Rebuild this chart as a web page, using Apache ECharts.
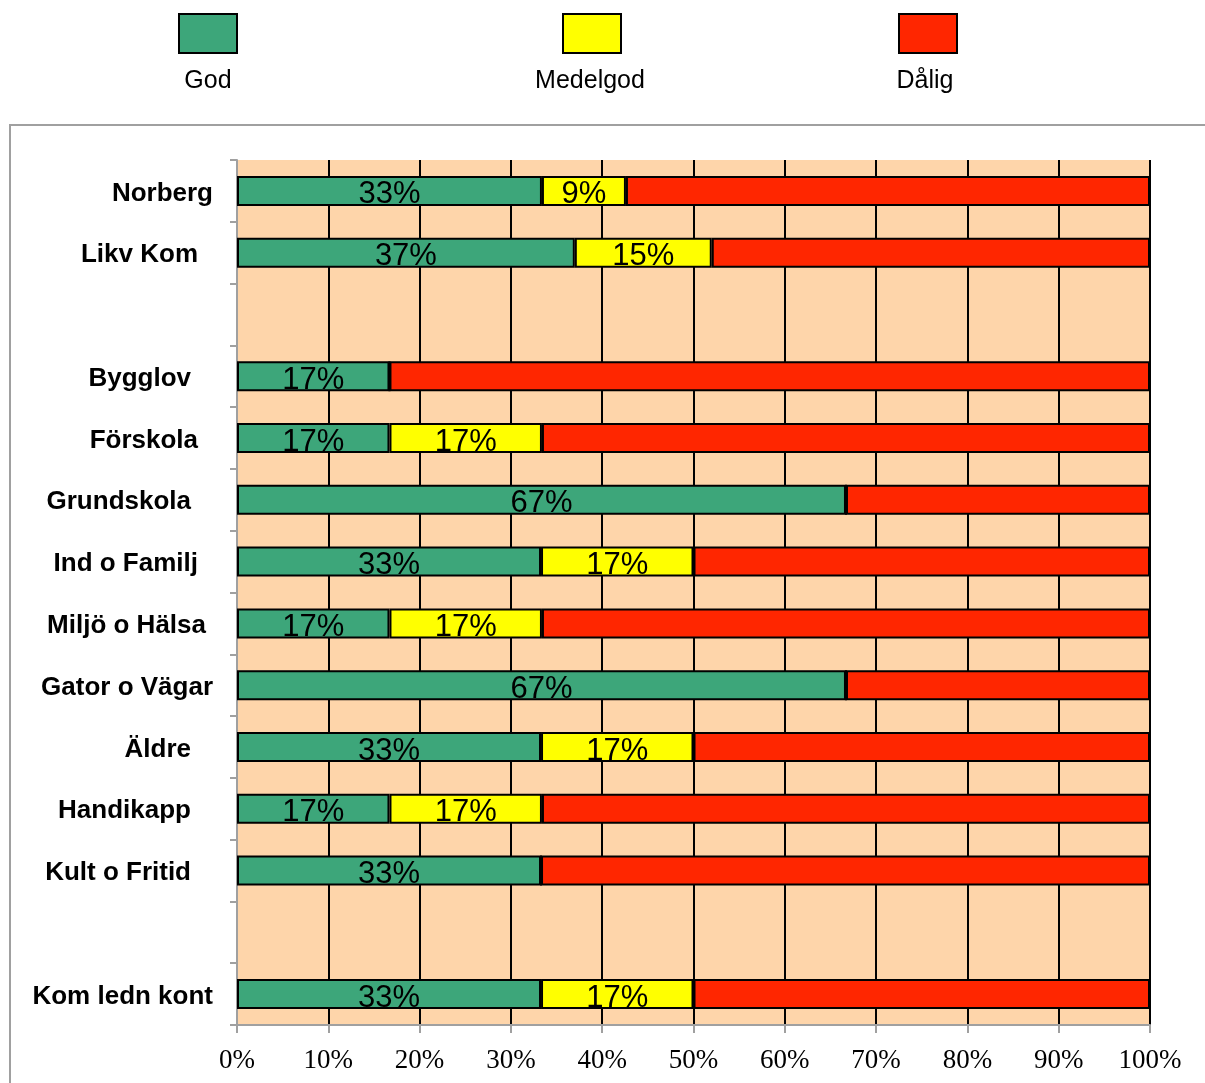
<!DOCTYPE html>
<html>
<head>
<meta charset="utf-8">
<script src="https://cdn.jsdelivr.net/npm/echarts@6/dist/echarts.min.js"></script>
<style>
  html, body { margin: 0; padding: 0; background: #fff; }
  #chart { width: 1205px; height: 1083px; }
</style>
</head>
<body>
<div id="chart"></div>
<script>
// data (percent of each row)
const categories = ['Norberg', 'Likv Kom', '', 'Bygglov', 'Förskola', 'Grundskola', 'Ind o Familj',
  'Miljö o Hälsa', 'Gator o Vägar', 'Äldre', 'Handikapp', 'Kult o Fritid', '', 'Kom ledn kont'];
const seriesNames = ['God', 'Medelgod', 'Dålig'];
const god      = [33.4, 37.0, null, 16.7, 16.7, 66.7, 33.3, 16.7, 66.7, 33.3, 16.7, 33.3, null, 33.3];
const medelgod = [9.2, 15.0, null, 0, 16.7, 0, 16.7, 16.7, 0, 16.7, 16.7, 0, null, 16.7];
const dalig    = [57.4, 48.0, null, 83.3, 66.6, 33.3, 50.0, 66.6, 33.3, 50.0, 66.6, 66.7, null, 50.0];
const xTicks = [0, 10, 20, 30, 40, 50, 60, 70, 80, 90, 100];

// label indents used by the original (right padding per row label)
const labelPad = [0, 15, 0, 22, 15, 22, 15, 7, 0, 22, 22, 22, 0, 0];

const colors = ['#3DA67A', '#FFFF00', '#FF2600'];

const chart = echarts.init(document.getElementById('chart'));

const rich = {};
labelPad.forEach(p => {
  rich['p' + p] = { padding: [5, p, 0, 0], fontFamily: 'Liberation Sans', fontWeight: 'bold', fontSize: 26, color: '#000' };
});

function barSeries(name, data, i, withLabel) {
  return {
    name: name,
    type: 'bar',
    stack: 'total',
    barWidth: 30,
    data: data,
    itemStyle: { color: colors[i], borderColor: '#000', borderWidth: 2 },
    label: {
      show: withLabel,
      position: 'inside',
      offset: [0, 4],
      color: '#000',
      fontFamily: 'Liberation Sans',
      fontSize: 31,
      formatter: p => (p.value ? Math.round(p.value) + '%' : ''),
    },
  };
}

const legendLeft = [178, 562, 898];
const legendText = [208, 590, 925];

chart.setOption({
  animation: false,
  backgroundColor: '#fff',
  legend: seriesNames.map((n, i) => ({
    data: [n],
    left: legendLeft[i],
    top: 13,
    padding: 0,
    icon: 'rect',
    itemWidth: 58,
    itemHeight: 39,
    itemGap: 0,
    formatter: () => '',
    selectedMode: false,
    itemStyle: { borderColor: '#000', borderWidth: 2 },
  })),
  graphic: [
    {
      type: 'rect',
      shape: { x: 10, y: 125, width: 1220, height: 980 },
      style: { fill: 'none', stroke: '#a0a0a0', lineWidth: 2 },
      silent: true,
    },
  ].concat(seriesNames.map((n, i) => ({
    type: 'text',
    x: legendText[i],
    y: 81,
    style: {
      text: n,
      fontFamily: 'Liberation Sans',
      fontSize: 25,
      fill: '#000',
      textAlign: 'center',
      textVerticalAlign: 'middle',
    },
  }))),
  grid: {
    left: 237,
    right: 55,
    top: 160,
    bottom: 58,
    show: true,
    backgroundColor: '#FED5AA',
    borderWidth: 0,
  },
  xAxis: {
    type: 'value',
    min: 0,
    max: 100,
    interval: 10,
    axisLine: { show: true, lineStyle: { color: '#a0a0a0', width: 2 } },
    axisTick: { show: true, length: 8, lineStyle: { color: '#a0a0a0', width: 2 } },
    splitLine: { show: true, lineStyle: { color: '#000', width: 2 } },
    axisLabel: {
      margin: 22,
      color: '#000',
      fontFamily: 'Liberation Serif',
      fontSize: 27,
      formatter: v => (xTicks.includes(v) ? v + '%' : ''),
    },
  },
  yAxis: {
    type: 'category',
    inverse: true,
    data: categories,
    axisLine: { show: true, lineStyle: { color: '#a0a0a0', width: 2 } },
    axisTick: { show: true, length: 7, alignWithLabel: false, lineStyle: { color: '#a0a0a0', width: 2 } },
    splitLine: { show: false },
    axisLabel: {
      margin: 24,
      formatter: (v, idx) => (v ? '{p' + labelPad[idx] + '|' + v + '}' : ''),
      rich: rich,
    },
  },
  series: [
    barSeries(seriesNames[0], god, 0, true),
    barSeries(seriesNames[1], medelgod, 1, true),
    barSeries(seriesNames[2], dalig, 2, false),
  ],
});
</script>
</body>
</html>
